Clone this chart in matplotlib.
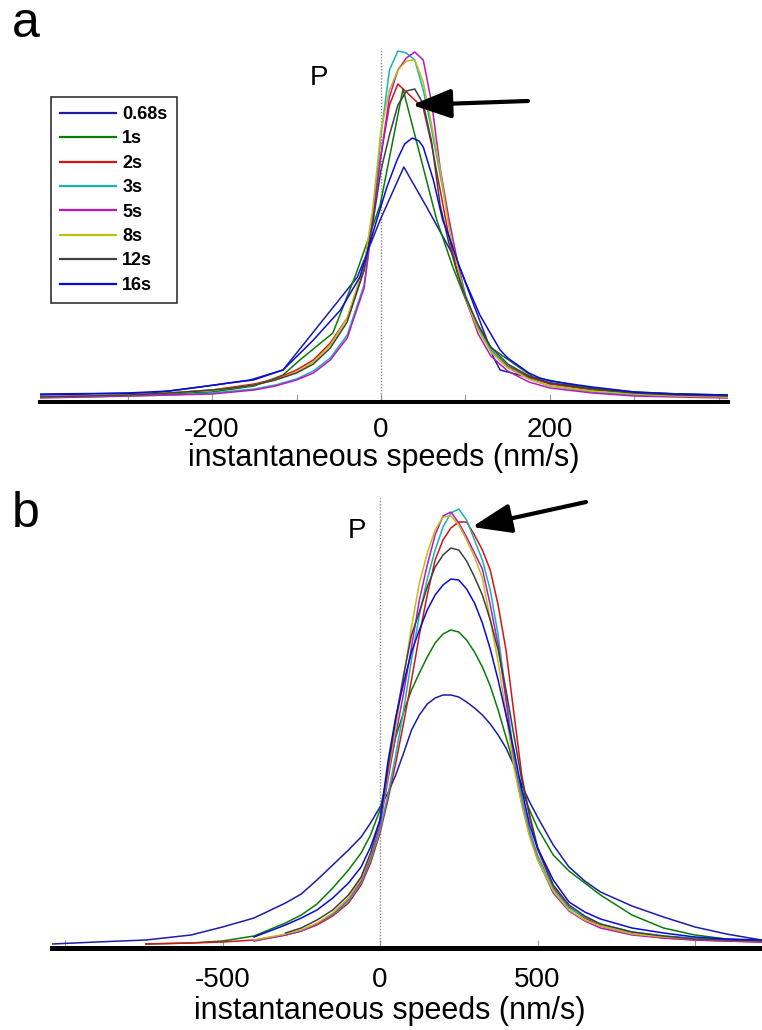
import numpy as np
import matplotlib
matplotlib.use('Agg')
import matplotlib.pyplot as plt
from matplotlib.lines import Line2D

N = np.nan

# ---------------- data: panel a (instantaneous speeds, nm/s) ----------------
series_labels = ['0.68s', '1s', '2s', '3s', '5s', '8s', '12s', '16s']
series_colors = ['#1c1ca8', '#0a7a0a', '#d41414', '#14b4b4', '#c014c0',
                 '#bebe14', '#404040', '#0a0ad8']

a_068_x = [-405, -270, -197, -155, -116, -28, -1, 27, 54, 93, 133, 141, 200, 298, 410]
a_068_y = [6, 7, 15, 20, 30, 123, 180, 233, 193, 133, 43, 30, 17, 7, 5]

a_1_x = [-405, -300, -200, -150, -116, -96, -57, -30, -1, 26, 66, 85, 105, 129, 180, 240, 300, 410]
a_1_y = [3, 4, 8, 14, 25, 40, 67, 125, 195, 311, 180, 133, 90, 53, 23, 13, 8, 4]

a_grid = [-405, -350, -300, -250, -200, -175, -150, -125, -100, -80, -60, -40, -20, -10, 0,
          10, 20, 30, 40, 50, 60, 70, 80, 90, 100, 115, 130, 150, 175, 200, 250, 300, 350, 410]
a_2_y = [3, 4, 5, 7, 10, 13, 16, 21, 30, 40, 57, 82, 130, 180, 245,
         295, 316, 308, 300, 292, 255, 210, 165, 130, 102, 72, 50, 34, 23, 16, 10, 7, 5, 4]
a_3_y = [3, 3, 4, 5, 7, 9, 11, 15, 21, 29, 42, 65, 115, 175, 265,
         330, 349, 347, 340, 310, 270, 225, 180, 140, 105, 72, 50, 33, 21, 14, 8, 5, 4, 3]
a_5_y = [2, 3, 4, 5, 6, 8, 10, 14, 20, 27, 40, 62, 112, 180, 245,
         303, 330, 342, 348, 340, 297, 232, 183, 140, 102, 66, 44, 29, 18, 12, 7, 4, 3, 2]
a_8_y = [3, 4, 5, 7, 10, 12, 15, 20, 28, 38, 55, 82, 135, 190, 270,
         310, 330, 339, 340, 318, 275, 230, 175, 135, 102, 70, 48, 32, 21, 14, 9, 6, 4, 3]
a_12_y = [3, 4, 5, 7, 10, 12, 15, 20, 27, 36, 52, 78, 130, 175, 230,
          265, 295, 309, 311, 296, 258, 195, 158, 128, 103, 75, 53, 36, 24, 17, 11, 7, 5, 4]

a_16_x = [-405, -350, -300, -250, -214, -180, -151, -116, -80, -48, -25, -5, 7, 19, 28, 37, 45,
          50, 62, 73, 80, 93, 100, 117, 130, 141, 150, 175, 188, 200, 250, 300, 350, 410]
a_16_y = [5, 6, 7, 9, 13, 17, 20, 30, 60, 90, 123, 180, 213, 240, 256, 262, 259,
          253, 220, 180, 165, 133, 118, 85, 66, 50, 42, 27, 22, 19, 13, 8, 6, 5]

a_ticks = [-300, -200, -100, 0, 100, 200, 300, 400]
a_ticklabels = ['', '-200', '', '0', '', '200', '', '']

# ---------------- data: panel b ----------------
b_grid = [-1040, -900, -743, -600, -500, -400, -300, -250, -200, -150, -100, -60, -30, 0, 25,
          50, 75, 100, 125, 150, 175, 200, 225, 250, 275, 300, 325, 350, 375, 400,
          425, 450, 475, 500, 550, 600, 650, 700, 800, 900, 1000, 1100, 1210]
b_068_y = [1, 3, 5, 10, 18, 27, 42, 51, 65, 80, 95, 108, 122, 138, 152,
           170, 192, 215, 230, 241, 247, 250, 250, 248, 243, 237, 230, 221, 210, 197,
           180, 160, 143, 128, 100, 78, 64, 53, 39, 28, 18, 11, 5]
b_1_y = [N, N, 1, 2, 4, 9, 22, 30, 41, 57, 75, 92, 110, 135, 172,
         208, 233, 255, 272, 288, 302, 311, 315, 313, 305, 293, 278, 259, 235, 208,
         180, 155, 135, 117, 90, 74, 62, 50, 30, 17, 10, 6, 4]
b_2_y = [N, N, 1, 2, 3, 5, 10, 14, 20, 29, 42, 60, 82, 112, 145,
         182, 222, 265, 310, 350, 385, 405, 417, 423, 423, 410, 395, 375, 340, 295,
         232, 170, 128, 96, 58, 38, 27, 19, 11, 7, 5, 4, 3]
b_3_y = [N, N, N, N, N, 4, 10, 14, 21, 30, 44, 62, 85, 115, 150,
         190, 235, 285, 330, 366, 395, 418, 432, 436, 425, 405, 385, 355, 310, 250,
         190, 148, 115, 90, 56, 37, 28, 21, 13, 9, 7, 5, 4]
b_5_y = [N, N, N, N, N, 4, 10, 14, 21, 31, 46, 64, 88, 120, 165,
         210, 252, 298, 345, 380, 410, 429, 433, 422, 408, 392, 376, 340, 300, 245,
         182, 142, 110, 86, 52, 34, 24, 17, 10, 7, 5, 4, 3]
b_8_y = [N, N, N, N, N, 5, 11, 15, 22, 32, 47, 66, 90, 125, 170,
         218, 268, 318, 362, 392, 415, 428, 429, 420, 405, 388, 367, 325, 283, 232,
         178, 140, 108, 85, 54, 35, 25, 19, 11, 8, 6, 5, 4]
b_12_y = [N, N, N, N, N, N, 12, 17, 25, 35, 50, 68, 92, 125, 175,
          226, 270, 310, 333, 358, 378, 390, 397, 395, 384, 368, 350, 325, 295, 255,
          210, 165, 130, 98, 60, 40, 29, 21, 13, 9, 6, 5, 4]
b_16_y = [N, N, N, N, N, 8, 20, 27, 35, 47, 62, 78, 98, 125, 183,
          228, 262, 293, 315, 335, 350, 360, 366, 365, 356, 342, 322, 296, 265, 230,
          195, 155, 120, 97, 65, 43, 33, 26, 17, 12, 8, 6, 5]

b_ticks = [-1000, -500, 0, 500, 1000]
b_ticklabels = ['', '-500', '0', '500', '']

xlabel = 'instantaneous speeds (nm/s)'

# ---------------- figure ----------------
plt.rcParams['font.family'] = ['Liberation Sans', 'DejaVu Sans']
W, H = 762, 1030
fig = plt.figure(figsize=(W / 100, H / 100), dpi=100)


def axes_px(left, top, right, bottom):
    return fig.add_axes([left / W, 1 - bottom / H, (right - left) / W, (bottom - top) / H])


def style_axis(ax, ticks, ticklabels, spine_lw, pad, labelpad):
    for s in ['left', 'right', 'top']:
        ax.spines[s].set_visible(False)
    ax.spines['bottom'].set_linewidth(spine_lw)
    ax.spines['bottom'].set_color('black')
    ax.set_yticks([])
    ax.set_xticks(ticks)
    ax.set_xticklabels(ticklabels)
    ax.tick_params(axis='x', direction='in', length=6, width=0.8, color='#9a9a9a',
                   pad=pad, labelsize=20)
    ax.set_xlabel(xlabel, fontsize=22, labelpad=labelpad)
    ax.patch.set_alpha(0)


# panel a
axa = axes_px(40, 20, 728, 402)
axa.set_xlim(-403.6, 410.7)
axa.set_ylim(-2, 380)
style_axis(axa, a_ticks, a_ticklabels, 2.9, 11, 0)
axa.axvline(0, ymin=2 / 382, ymax=354 / 382, color='#8a8a8a', lw=1.0, ls=(0, (1, 1.2)))

a_x = [a_068_x, a_1_x, a_grid, a_grid, a_grid, a_grid, a_grid, a_16_x]
a_y = [a_068_y, a_1_y, a_2_y, a_3_y, a_5_y, a_8_y, a_12_y, a_16_y]
for xs, ys, c, lab in zip(a_x, a_y, series_colors, series_labels):
    axa.plot(xs, ys, color=c, lw=1.1, label=lab)

handles = [Line2D([], [], color=c, lw=1.6) for c in series_colors]
leg = axa.legend(handles, series_labels, loc='upper left',
                 bbox_to_anchor=(51 / W, 1 - 97 / H), bbox_transform=fig.transFigure,
                 borderaxespad=0, prop=dict(weight='bold', size=13),
                 handlelength=3.1, handletextpad=0.35, labelspacing=0.41,
                 borderpad=0.5, frameon=True, fancybox=False, framealpha=1,
                 edgecolor='#333333')
leg.get_frame().set_linewidth(1.2)

# panel b
axb = axes_px(52, 490, 762, 947.5)
axb.set_xlim(-1041.3, 1212.7)
axb.set_ylim(-2.5, 455)
style_axis(axb, b_ticks, b_ticklabels, 3.6, 14, 1)
axb.xaxis.set_label_coords((390 - 52) / 710, -0.106)
axb.axvline(0, ymin=2.5 / 457.5, ymax=449.5 / 457.5, color='#8a8a8a', lw=1.0, ls=(0, (1, 1.2)))

b_y = [b_068_y, b_1_y, b_2_y, b_3_y, b_5_y, b_8_y, b_12_y, b_16_y]
for ys, c, lab in zip(b_y, series_colors, series_labels):
    axb.plot(b_grid, ys, color=c, lw=1.1, label=lab)

# annotations
fig.text(12 / W, 1 - 37 / H, 'a', fontsize=36, ha='left', va='baseline')
fig.text(12 / W, 1 - 527 / H, 'b', fontsize=36, ha='left', va='baseline')
fig.text(310 / W, 1 - 85 / H, 'P', fontsize=20, ha='left', va='baseline')
fig.text(348 / W, 1 - 538 / H, 'P', fontsize=20, ha='left', va='baseline')

arrow_style = '-|>,head_length=1.2,head_width=0.45'
axa.annotate('', xy=(412, H - 105), xycoords='figure pixels',
             xytext=(528, H - 101), textcoords='figure pixels',
             arrowprops=dict(arrowstyle=arrow_style, lw=3, color='black',
                             shrinkA=0, shrinkB=0, mutation_scale=20))
axb.annotate('', xy=(472, H - 527), xycoords='figure pixels',
             xytext=(586, H - 502), textcoords='figure pixels',
             arrowprops=dict(arrowstyle=arrow_style, lw=3, color='black',
                             shrinkA=0, shrinkB=0, mutation_scale=20))

fig.savefig('out.png', dpi=100, facecolor='white')
